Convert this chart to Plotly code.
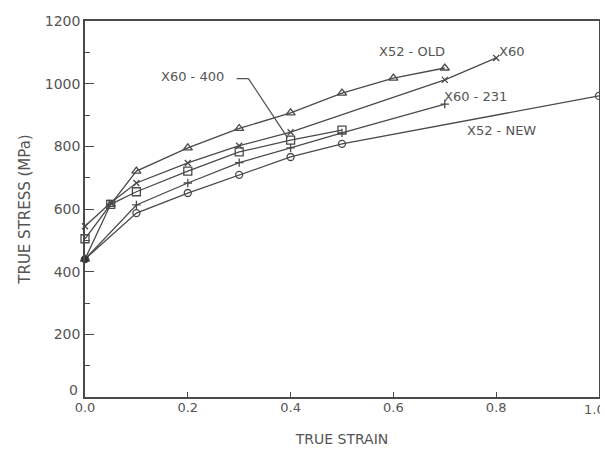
import plotly.graph_objects as go

# ---- data ----
x52_old_x = [0.0, 0.05, 0.1, 0.2, 0.3, 0.4, 0.5, 0.6, 0.7]
x52_old_y = [440, 615, 721, 795, 857, 907, 970, 1018, 1050]

x60_x = [0.0, 0.05, 0.1, 0.2, 0.3, 0.4, 0.7, 0.8]
x60_y = [545, 620, 683, 747, 802, 845, 1012, 1082]

x60_400_x = [0.0, 0.05, 0.1, 0.2, 0.3, 0.4, 0.5]
x60_400_y = [505, 615, 655, 721, 782, 820, 852]

x60_231_x = [0.0, 0.1, 0.2, 0.3, 0.4, 0.5, 0.7]
x60_231_y = [440, 613, 683, 748, 795, 843, 935]

x52_new_x = [0.0, 0.1, 0.2, 0.3, 0.4, 0.5, 1.0]
x52_new_y = [440, 587, 651, 709, 766, 808, 961]

y_ticks = [0, 200, 400, 600, 800, 1000, 1200]
y_tick_text = ["", "200", "400", "600", "800", "1000", "1200"]
x_ticks = [0.0, 0.2, 0.4, 0.6, 0.8, 1.0]
x_tick_text = ["0.0", "0.2", "0.4", "0.6", "0.8", ""]

LINE = "#4a4a4a"
TXT = "#555555"
FONT = "DejaVu Sans"

fig = go.Figure()

def add(xs, ys, symbol, size=7):
    fig.add_trace(go.Scatter(
        x=xs, y=ys, mode="lines+markers",
        line=dict(color=LINE, width=1.3),
        marker=dict(symbol=symbol, size=size, color=LINE,
                    line=dict(color=LINE, width=1.3)),
        cliponaxis=False, showlegend=False))

add(x52_old_x, x52_old_y, "triangle-up-open", 8)
add(x60_x, x60_y, "x-thin", 6)
add(x60_400_x, x60_400_y, "square-open", 8)
add(x60_231_x, x60_231_y, "cross-thin", 6)
add(x52_new_x, x52_new_y, "circle-open", 7)

# filled point at origin cluster
fig.add_trace(go.Scatter(x=[x52_new_x[0]], y=[x52_new_y[0]], mode="markers",
                         marker=dict(symbol="circle", size=7, color="#333"),
                         cliponaxis=False, showlegend=False))

labels = [
    ("X52 - OLD", 0.636, 1103),
    ("X60", 0.83, 1103),
    ("X60 - 400", 0.21, 1023),
    ("X60 - 231", 0.76, 960),
    ("X52 - NEW", 0.81, 852),
]
for t, xx, yy in labels:
    fig.add_annotation(x=xx, y=yy, text=t, showarrow=False,
                       font=dict(family=FONT, size=13, color=TXT))

# end tick labels placed so they stay inside the page
fig.add_annotation(x=x_ticks[-1], y=0, text="1.0", showarrow=False,
                   yref="y", xref="x", yanchor="top", xanchor="right",
                   xshift=8, yshift=-3,
                   font=dict(family=FONT, size=13, color=TXT))
fig.add_annotation(x=0, y=y_ticks[0], text="0", showarrow=False,
                   xanchor="right", yanchor="middle", xshift=-5, yshift=7,
                   font=dict(family=FONT, size=14, color=TXT))

# leader line for X60-400
fig.add_shape(type="line", x0=0.295, y0=1016, x1=0.318, y1=1016,
              line=dict(color=LINE, width=1.2))
fig.add_shape(type="line", x0=0.318, y0=1016, x1=0.394, y1=828,
              line=dict(color=LINE, width=1.2))

fig.update_xaxes(range=[0, 1.0], tickvals=x_ticks, ticktext=x_tick_text,
                 automargin=False,
                 ticks="inside", ticklen=5, tickcolor=LINE,
                 showline=True, linecolor=LINE, linewidth=1.5, mirror=True,
                 showgrid=False, zeroline=False, ticklabelstandoff=-2,
                 tickfont=dict(family=FONT, size=13, color=TXT),
                 title=dict(text="TRUE STRAIN", font=dict(family=FONT, size=14, color=TXT),
                            standoff=20))
fig.update_yaxes(range=[0, 1200], tickvals=y_ticks, ticktext=y_tick_text,
                 automargin=False,
                 ticks="inside", ticklen=9, tickcolor=LINE,
                 minor=dict(dtick=100, ticks="inside", ticklen=5, tickcolor=LINE),
                 showline=True, linecolor=LINE, linewidth=1.5, mirror=True,
                 showgrid=False, zeroline=False,
                 tickfont=dict(family=FONT, size=14, color=TXT),
                 title=dict(text="TRUE STRESS (MPa)", font=dict(family=FONT, size=15, color=TXT),
                            standoff=11))

# page has an 8px body margin, so the figure is sized to fit the window
fig.update_layout(width=600, height=445,
                  margin=dict(l=77, r=9, t=13, b=56, autoexpand=False),
                  plot_bgcolor="white", paper_bgcolor="white")

fig.write_html("out.html")
